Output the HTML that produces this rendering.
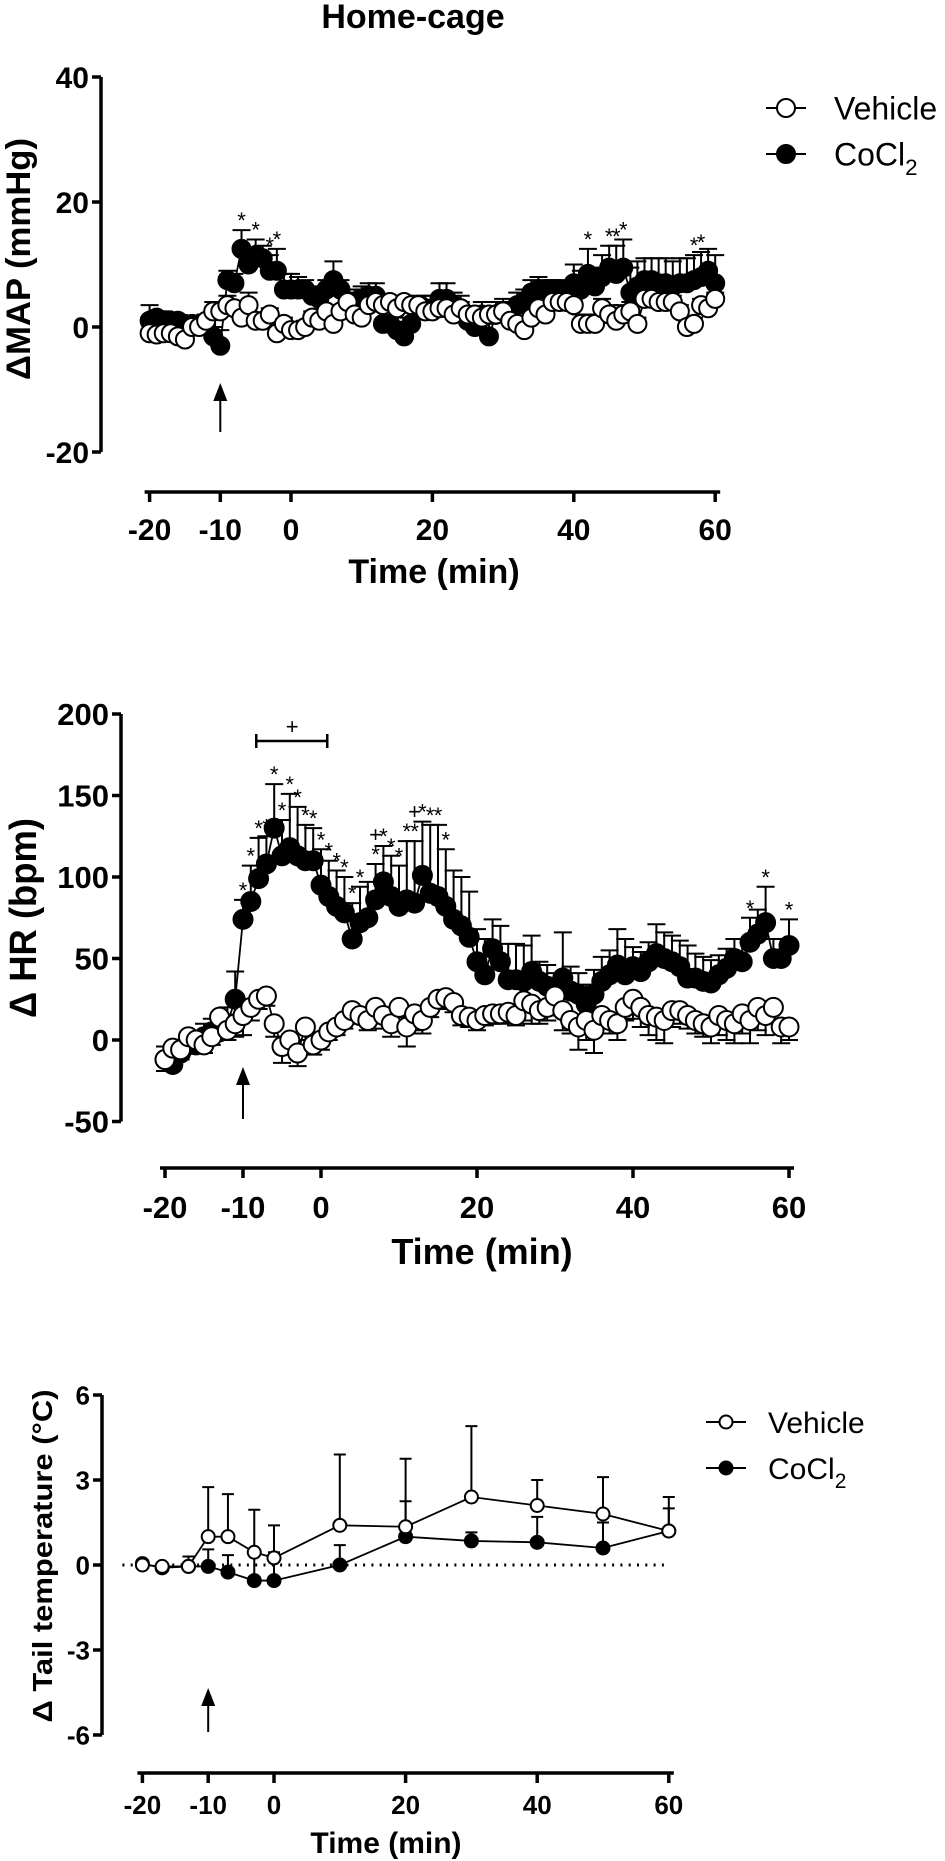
<!DOCTYPE html>
<html><head><meta charset="utf-8"><style>
html,body{margin:0;padding:0;background:#fff;}
svg{display:block;font-family:"Liberation Sans",Arial,sans-serif;}
</style></head><body>
<svg id="fig" width="945" height="1861" viewBox="0 0 945 1861" xmlns="http://www.w3.org/2000/svg">
<text x="413" y="28" text-anchor="middle" font-size="34" font-weight="bold">Home-cage</text>
<g id="p1"></g>
<g id="p2"></g>
<g id="p3"></g>
</svg>
<script>
// ---- Panel 1: ΔMAP ----
const mapTimes = [-20,-19,-18,-17,-16,-15,-14,-13,-12,-11,-10,-9,-8,-7,-6,-5,-4,-3,-2,-1,0,1,2,3,4,5,6,7,8,9,10,11,12,13,14,15,16,17,18,19,20,21,22,23,24,25,26,27,28,29,30,31,32,33,34,35,36,37,38,39,40,41,42,43,44,45,46,47,48,49,50,51,52,53,54,55,56,57,58,59,60];
const mapVehicle = [-1,-1.2,-1,-1,-1.5,-2,0,0,1,2.5,2.5,3.5,3,1.5,3.5,1,1,2,-1,0.5,-0.5,-0.5,0,1.5,1,2.5,0.5,2.5,4,2,1.5,3.5,4,3.5,4,3,4,3.5,3.5,2.5,2.5,3,3,2,3,2,2,1.5,2,2,2.5,1,0.5,-0.5,1.5,3,2,4,4,4,3.5,0.5,0.5,0.5,3,2,1,2,2.5,0.5,4.5,4.5,4,4,4,2.5,0,0.5,3.5,3,4.5];
const mapCocl2 = [1,1.5,1,1,1,0.5,0.5,0.5,0.5,-1.5,-3,7.5,7,12.5,10,11.5,11,9,9,6,6,6,6,5,4.5,6,7.5,6,4,4,4.5,5,5,0.5,0.5,-0.5,-1.5,0.5,3,3,3,4.5,4.5,3.5,3,1,0,2,-1.5,2,2.5,2,3.5,4,5.5,6,6,6,6,5.5,7,6,8.5,6.5,8,9.5,8.5,9.5,5.5,6.5,7.5,7.5,7,7,6.5,7,7,7.5,8,9,7];
const mapCocl2Sem = [2.5,1,1.5,1,0.8,1,1,1,1,1.5,2.5,1.5,1.5,3,2.5,2.5,2,2.5,3.5,2.5,2.5,2,1.5,1.5,1.5,1.5,3,1.5,1.5,2,2,2,2,2.5,2.5,3,3,2,2,2,2,2.5,2.5,2,2,2,2,2,2,2,2,2,2,2,2,2,1.5,1.5,1.5,1.5,3,3,4,3,3.5,3.5,4.5,4.5,4,4,3.5,3.5,4,4,4,4,4,4,4,3.5,4.5];
const mapVehicleSem = [1.5,1,1,1,1,1,1,1,1,1.5,1.5,1.5,1,1,2,1,1,1,1,1,1,1,1,1,1,1,1,1,1,1,1,1,1,1,1,1,1,1,1,1,1,1,1,1,1,1,1,1,1,1,1,1,1,1,1,1,1,1,1,1,1,1.5,1.5,1.5,1.5,1.5,1.5,1.5,1.5,1,1,1,1,1,1,1,1,1,1,1,1];
const mapStarTimes = [-7,-5,-3,-2,42,45,46,47,57,58];
const mapYTicks = [40,20,0,-20];
const mapXTicks = [-20,-10,0,20,40,60];

// ---- Panel 2: ΔHR ----
const hrTimes = mapTimes;
const hrCocl2 = [-12,-15,-8,-3,-3,2,5,5,10,25,74,85,99,108,130,113,118,113,110,110,95,88,82,78,62,72,75,86,97,88,82,86,84,101,90,88,82,74,70,63,48,40,56,48,37,37,36,42,36,33,28,38,30,28,22,28,36,40,46,40,45,42,48,53,50,48,45,38,38,36,35,40,44,50,48,60,65,72,50,50,58];
const hrCocl2Sem = [8,10,8,8,8,8,8,8,10,17,12,22,25,17,27,22,33,30,22,20,22,22,22,22,22,22,22,22,22,25,25,36,38,33,42,44,35,30,30,28,20,22,18,22,22,22,22,22,12,13,13,28,15,13,12,15,15,15,22,22,12,12,12,18,16,16,16,20,15,15,14,12,12,12,14,15,15,22,12,12,16];
const hrVehicle = [-12,-5,-6,2,0,-3,2,14,6,10,15,20,25,27,10,-4,0,-8,8,-3,0,5,8,12,18,15,12,20,15,10,20,8,16,12,20,25,26,23,15,14,12,15,16,16,17,15,24,22,18,20,27,18,12,8,12,6,15,12,10,20,25,20,15,14,12,18,18,15,12,10,8,15,12,10,16,12,20,15,20,8,8];
const hrVehicleSem = [7,6,6,6,5,5,5,6,6,8,12,8,6,6,8,10,8,8,8,6,6,5,5,5,5,5,6,8,8,8,6,12,10,8,6,6,6,6,6,6,6,6,6,6,6,6,12,12,8,8,12,12,8,14,12,14,8,8,10,8,12,12,12,14,14,10,8,8,8,8,10,12,12,12,12,14,14,12,10,10,8];
const hrStarTimes = [-10,-9,-8,-7,-6,-5,-4,-3,-2,-1,0,1,2,3,4,5,7,8,9,10,11,12,13,14,15,16,55,57,60];
const hrPlusTimes = [7,12];
const hrYTicks = [200,150,100,50,0,-50];
const hrXTicks = [-20,-10,0,20,40,60];

// ---- Panel 3: Tail temperature ----
const tailTimes = [-20,-17,-13,-10,-7,-3,0,10,20,30,40,50,60];
const tailVehicle = [0,-0.05,-0.05,1.0,1.0,0.45,0.25,1.4,1.35,2.4,2.1,1.8,1.2];
const tailVehicleSem = [0.1,0.05,0.35,1.75,1.5,1.5,1.15,2.5,2.4,2.5,0.9,1.3,1.2];
const tailCocl2 = [0.05,-0.1,-0.05,-0.05,-0.25,-0.55,-0.55,0.0,1.0,0.85,0.8,0.6,1.2];
const tailCocl2Sem = [0.05,0.05,0.05,0.6,0.6,1.0,1.0,0.7,1.25,0.3,0.9,0.9,0.8];
const tailYTicks = [6,3,0,-3,-6];
const tailXTicks = [-20,-10,0,20,40,60];

const NS = "http://www.w3.org/2000/svg";
function mk(parent, tag, attrs, text) {
  const e = document.createElementNS(NS, tag);
  for (const k in attrs) e.setAttribute(k, attrs[k]);
  if (text !== undefined) e.textContent = text;
  parent.appendChild(e);
  return e;
}

function panel(g, cfg) {
  const xS = cfg.xS, yS = cfg.yS;
  // y axis
  let ax = mk(g, 'line', {x1: cfg.yAxisX, x2: cfg.yAxisX, y1: yS(cfg.yTicks[0]), y2: yS(cfg.yTicks[cfg.yTicks.length-1]), stroke: '#000', 'stroke-width': cfg.axW});
  
  
  cfg.yTicks.forEach(v => {
    const t = mk(g, 'line', {x1: cfg.yAxisX - 9, x2: cfg.yAxisX, y1: yS(v), y2: yS(v), stroke: '#000', 'stroke-width': cfg.axW});
    
    
    const l = mk(g, 'text', {x: cfg.yAxisX - 12, y: yS(v) + cfg.tickFs * 0.36, 'text-anchor': 'end', 'font-size': cfg.tickFs, 'font-weight': 'bold'}, String(v));
    
    
  });
  // x axis
  let xa = mk(g, 'line', {x1: xS(cfg.xTicks[0]) - 5, x2: xS(cfg.xTicks[cfg.xTicks.length-1]) + 5, y1: cfg.xAxisY, y2: cfg.xAxisY, stroke: '#000', 'stroke-width': cfg.axW});
  
  
  cfg.xTicks.forEach(v => {
    const t = mk(g, 'line', {x1: xS(v), x2: xS(v), y1: cfg.xAxisY, y2: cfg.xAxisY + 10, stroke: '#000', 'stroke-width': cfg.axW});
    
    
    const l = mk(g, 'text', {x: xS(v), y: cfg.xLabY, 'text-anchor': 'middle', 'font-size': cfg.tickFs, 'font-weight': 'bold'}, String(v));
    
    
  });
  const xt = mk(g, 'text', {x: cfg.xTitle[0], y: cfg.xTitle[1], 'text-anchor': 'middle', 'font-size': cfg.xTitle[2], 'font-weight': 'bold'}, 'Time (min)');
  
  
  const yt = mk(g, 'text', {x: 0, y: 0, transform: `translate(${cfg.yTitle[0]},${cfg.yTitle[1]}) rotate(-90)`, 'text-anchor': 'middle', 'font-size': cfg.yTitle[2], 'font-weight': 'bold', textLength: cfg.yTitle[3], lengthAdjust: 'spacingAndGlyphs'}, cfg.yTitleText);
  
  
  // arrow
  const ar = mk(g, 'g', {});
  
  
  mk(ar, 'line', {x1: xS(-10), x2: xS(-10), y1: cfg.arrow[1], y2: cfg.arrow[0] + 12, stroke: '#000', 'stroke-width': 2});
  mk(ar, 'polygon', {points: `${xS(-10)},${cfg.arrow[0]} ${xS(-10)-7},${cfg.arrow[0]+18} ${xS(-10)+7},${cfg.arrow[0]+18}`, fill: '#000'});
}

function series(g, cfg, times, vals, sems, filled, semDown, name) {
  const xS = cfg.xS, yS = cfg.yS, r = cfg.r;
  const sg = mk(g, 'g', {});
  
  
  // error bars
  times.forEach((t, i) => {
    const y0 = yS(vals[i]);
    const y1 = semDown ? yS(vals[i] - sems[i]) : yS(vals[i] + sems[i]);
    const eb = mk(sg, 'path', {d: `M${xS(t)},${y0} L${xS(t)},${y1} M${xS(t)-cfg.cap},${y1} L${xS(t)+cfg.cap},${y1}`, stroke: '#000', 'stroke-width': 2, fill: 'none'});
    
    
  });
  const pts = times.map((t, i) => xS(t) + ',' + yS(vals[i])).join(' ');
  const ln = mk(sg, 'polyline', {points: pts, fill: 'none', stroke: '#000', 'stroke-width': 1.8});
  
  
  times.forEach((t, i) => {
    const c = mk(sg, 'circle', {cx: xS(t), cy: yS(vals[i]), r: r, fill: filled ? '#000' : '#fff', stroke: '#000', 'stroke-width': 2});
    
    
  });
}

function marks(g, cfg, times, vals, sems, markTimes, sym, off) {
  markTimes.forEach(t => {
    const i = times.indexOf(t);
    const s = mk(g, 'text', {x: cfg.xS(t), y: cfg.yS(vals[i] + sems[i]) - off, 'text-anchor': 'middle', 'font-size': 22}, sym);
    
    
  });
}

function legend(g, x, y1, y2, r, fs, tx) {
  const lg = mk(g, 'g', {});
  
  
  [[y1, false, 'Vehicle'], [y2, true, 'CoCl']].forEach(([y, f, lab]) => {
    const e = mk(lg, 'g', {});
    
    
    mk(e, 'line', {x1: x - 20, x2: x + 20, y1: y, y2: y, stroke: '#000', 'stroke-width': 2});
    mk(e, 'circle', {cx: x, cy: y, r: r, fill: f ? '#000' : '#fff', stroke: '#000', 'stroke-width': 2});
    const t = mk(e, 'text', {x: tx, y: y + fs * 0.36, 'font-size': fs}, lab);
    if (f) mk(t, 'tspan', {dy: fs * 0.3, 'font-size': fs * 0.7}, '2');
  });
}

// Panel 1
const c1 = {xS: t => 291 + 7.07 * t, yS: v => 327 - 6.25 * v, yAxisX: 101, xAxisY: 492, axW: 3.5, tickFs: 30, xLabY: 540,
  yTicks: mapYTicks, xTicks: mapXTicks, xTitle: [434, 583, 34], yTitle: [30, 259, 34, 242], yTitleText: 'ΔMAP (mmHg)', arrow: [383, 432], r: 9, cap: 9};
const g1 = document.getElementById('p1');
panel(g1, c1);
series(g1, c1, mapTimes, mapCocl2, mapCocl2Sem, true, false, 'cocl2');
series(g1, c1, mapTimes, mapVehicle, mapVehicleSem, false, false, 'vehicle');
marks(g1, c1, mapTimes, mapCocl2, mapCocl2Sem, mapStarTimes, '*', 2);
legend(g1, 786, 108, 154, 9, 32, 834);

// Panel 2
const c2 = {xS: t => 321 + 7.8 * t, yS: v => 1040 - 1.63 * v, yAxisX: 121, xAxisY: 1168, axW: 3.5, tickFs: 31, xLabY: 1218,
  yTicks: hrYTicks, xTicks: hrXTicks, xTitle: [482, 1264, 36], yTitle: [36, 918, 38, 200], yTitleText: 'Δ HR (bpm)', arrow: [1067, 1119], r: 9.5, cap: 9};
const g2 = document.getElementById('p2');
panel(g2, c2);
series(g2, c2, hrTimes, hrCocl2, hrCocl2Sem, true, false, 'cocl2');
series(g2, c2, hrTimes, hrVehicle, hrVehicleSem, false, true, 'vehicle');
marks(g2, c2, hrTimes, hrCocl2, hrCocl2Sem, hrStarTimes, '*', 2);
marks(g2, c2, hrTimes, hrCocl2, hrCocl2Sem, hrPlusTimes, '+', 22);
const br = mk(g2, 'g', {});


mk(br, 'path', {d: `M${c2.xS(-8.3)},734 V748 M${c2.xS(-8.3)},741 H${c2.xS(0.8)} M${c2.xS(0.8)},734 V748`, stroke: '#000', 'stroke-width': 2.5, fill: 'none'});
mk(br, 'text', {x: c2.xS(-3.7), y: 734, 'text-anchor': 'middle', 'font-size': 22}, '+');

// Panel 3
const c3 = {xS: t => 274 + 6.58 * t, yS: v => 1565 - 28.33 * v, yAxisX: 102, xAxisY: 1773, axW: 3.5, tickFs: 26, xLabY: 1814,
  yTicks: tailYTicks, xTicks: tailXTicks, xTitle: [386, 1853, 30], yTitle: [52, 1556, 28, 333], yTitleText: 'Δ Tail temperature (°C)', arrow: [1688, 1732], r: 6.5, cap: 6};
const g3 = document.getElementById('p3');
panel(g3, c3);
const zl = mk(g3, 'line', {x1: c3.xS(-20) - 20, x2: c3.xS(60), y1: c3.yS(0), y2: c3.yS(0), stroke: '#000', 'stroke-width': 3, 'stroke-dasharray': '2,6.3'});


series(g3, c3, tailTimes, tailCocl2, tailCocl2Sem, true, false, 'cocl2');
series(g3, c3, tailTimes, tailVehicle, tailVehicleSem, false, false, 'vehicle');
legend(g3, 726, 1422, 1468, 6.5, 30, 768);
</script>
</body></html>
